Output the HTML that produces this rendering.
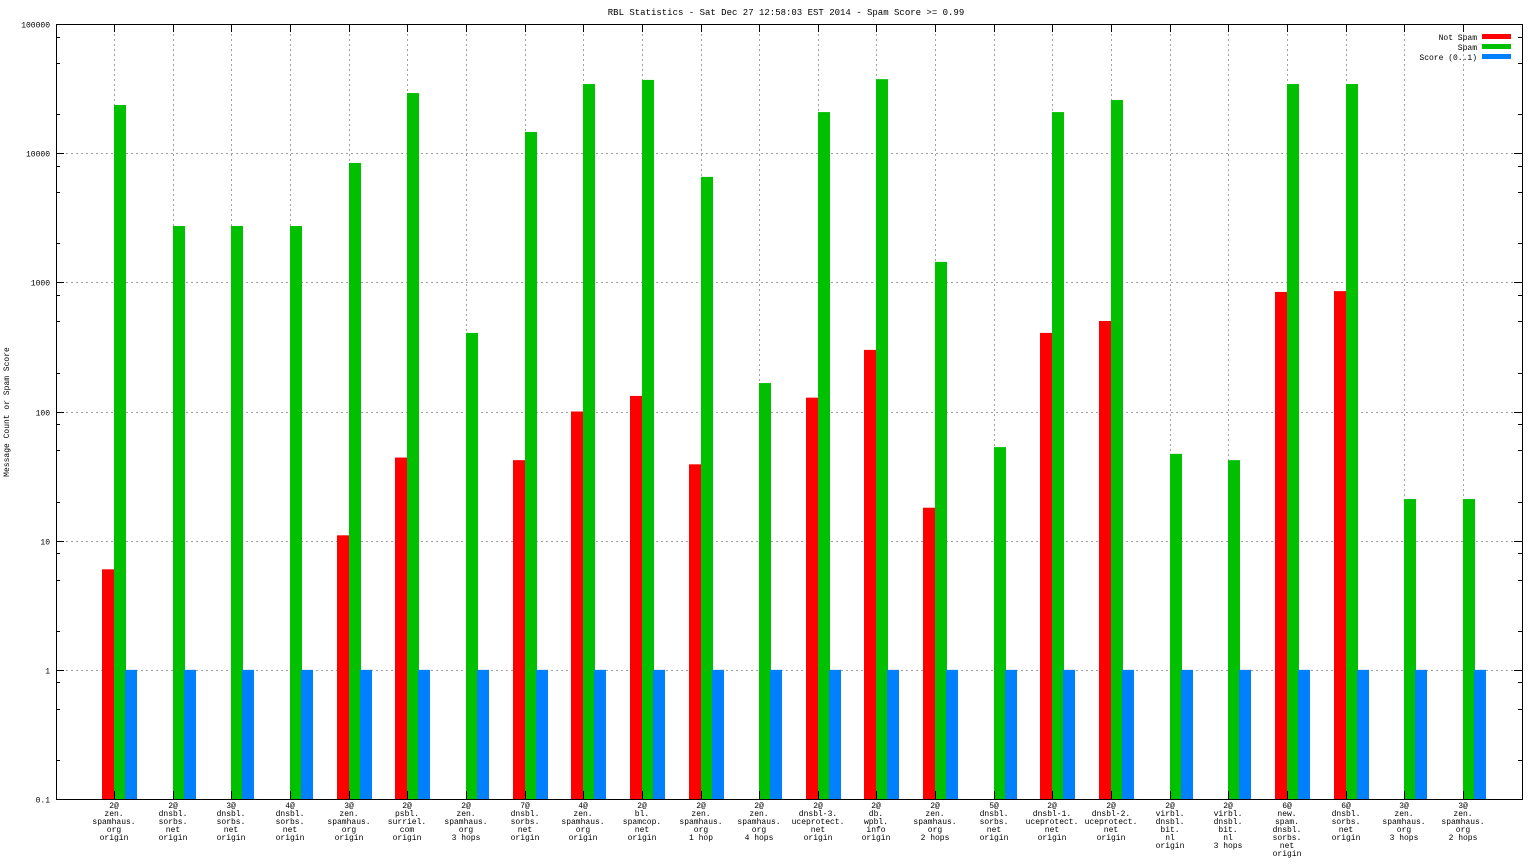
<!DOCTYPE html>
<html><head><meta charset="utf-8"><style>
html,body{margin:0;padding:0;background:#fff;}
svg{display:block;font-family:"Liberation Mono","DejaVu Sans Mono",monospace;}
</style></head><body>
<svg id="chart" width="1536" height="864" viewBox="0 0 1536 864" xmlns="http://www.w3.org/2000/svg">
<text x="786" y="15" font-size="9" text-anchor="middle">RBL Statistics - Sat Dec 27 12:58:03 EST 2014 - Spam Score &gt;= 0.99</text>
<text transform="translate(9,412) rotate(-90)" font-size="8" text-anchor="middle">Message Count or Spam Score</text>
<g id="grid"></g><g id="bars"></g><g id="axes"></g><g id="labels"></g>
<g font-size="8">
<text x="1477" y="40" text-anchor="end">Not Spam</text>
<rect x="1482" y="34" width="29" height="5" fill="#ff0000"/>
<text x="1477" y="50" text-anchor="end">Spam</text>
<rect x="1482" y="44" width="29" height="5" fill="#00c000"/>
<text x="1477" y="60" text-anchor="end">Score (0..1)</text>
<rect x="1482" y="54" width="29" height="5" fill="#0080ff"/>
</g>
</svg>
<script>
const categories=[
["2@","zen.","spamhaus.","org","origin"],["2@","dnsbl.","sorbs.","net","origin"],["3@","dnsbl.","sorbs.","net","origin"],["4@","dnsbl.","sorbs.","net","origin"],
["3@","zen.","spamhaus.","org","origin"],["2@","psbl.","surriel.","com","origin"],["2@","zen.","spamhaus.","org","3 hops"],["7@","dnsbl.","sorbs.","net","origin"],
["4@","zen.","spamhaus.","org","origin"],["2@","bl.","spamcop.","net","origin"],["2@","zen.","spamhaus.","org","1 hop"],["2@","zen.","spamhaus.","org","4 hops"],
["2@","dnsbl-3.","uceprotect.","net","origin"],["2@","db.","wpbl.","info","origin"],["2@","zen.","spamhaus.","org","2 hops"],["5@","dnsbl.","sorbs.","net","origin"],
["2@","dnsbl-1.","uceprotect.","net","origin"],["2@","dnsbl-2.","uceprotect.","net","origin"],["2@","virbl.","dnsbl.","bit.","nl","origin"],["2@","virbl.","dnsbl.","bit.","nl","3 hops"],
["6@","new.","spam.","dnsbl.","sorbs.","net","origin"],["6@","dnsbl.","sorbs.","net","origin"],["3@","zen.","spamhaus.","org","3 hops"],["3@","zen.","spamhaus.","org","2 hops"]];
const notSpam=[6,0,0,0,11,44,0,42,100,132,39,0,128,300,18,0,406,502,0,0,843,855,0,0];
const spam=[23600,2730,2730,2730,8400,29200,406,14600,34300,36900,6550,166,20800,37400,1440,53,20800,25800,47,42,34300,34300,21,21];
const score=[1,1,1,1,1,1,1,1,1,1,1,1,1,1,1,1,1,1,1,1,1,1,1,1];
const yTicks=[0.1,1,10,100,1000,10000,100000];
const yTickLabels=["0.1","1","10","100","1000","10000","100000"];
const minorMult=[2,5,8];

const L=56,R=1522,T=24,B=799,NS="http://www.w3.org/2000/svg";
const xScale=i=>L+(i+1)*(R-L)/25;
const yScale=v=>B-(Math.log10(v)+1)*(B-T)/6;
function mk(tag,attrs,parent){const e=document.createElementNS(NS,tag);for(const k in attrs)e.setAttribute(k,attrs[k]);parent.appendChild(e);return e;}
const grid=document.getElementById('grid'),bars=document.getElementById('bars'),axes=document.getElementById('axes'),labels=document.getElementById('labels');
const dash={stroke:"#a0a0a0","stroke-width":1,"stroke-dasharray":"2,3"};
yTicks.forEach((t,i)=>{
  const y=Math.round(yScale(t))+0.5;
  if(i>0&&i<yTicks.length-1){const g=mk('line',Object.assign({x1:L,x2:R,y1:y,y2:y},dash),grid);
  
  }
  const tk=mk('text',{x:L-6,y:y+3,"font-size":8,"text-anchor":"end"},labels);tk.textContent=yTickLabels[i];
  
  
  mk('line',{x1:L,x2:L+8,y1:y,y2:y,stroke:"#000"},axes);
  mk('line',{x1:R-8,x2:R,y1:y,y2:y,stroke:"#000"},axes);
  if(i<yTicks.length-1){minorMult.forEach(m=>{const ym=Math.round(yScale(t*m))+0.5;
    mk('line',{x1:L,x2:L+4,y1:ym,y2:ym,stroke:"#000"},axes);mk('line',{x1:R-4,x2:R,y1:ym,y2:ym,stroke:"#000"},axes);});}
});
categories.forEach((c,i)=>{
  const cx=Math.floor(xScale(i));
  const g=mk('line',Object.assign({x1:cx+0.5,x2:cx+0.5,y1:T,y2:B},dash),grid);
  
  
  mk('line',{x1:cx+0.5,x2:cx+0.5,y1:B-8,y2:B,stroke:"#000"},axes);
  mk('line',{x1:cx+0.5,x2:cx+0.5,y1:T,y2:T+8,stroke:"#000"},axes);
  [[notSpam,"#ff0000",-12,'bar-not-spam'],[spam,"#00c000",0,'bar-spam'],[score,"#0080ff",11,'bar-score']].forEach(([arr,col,off,nm])=>{
    const v=arr[i]; if(!(v>0))return;
    const y=yScale(v);
    const r=mk('rect',{x:cx+off,y:y,width:12,height:B-y,fill:col},bars);
    
    
  });
  const t=mk('text',{x:cx,"font-size":8,"text-anchor":"middle"},labels);
  
  
  c.forEach((line,j)=>{const s=mk('tspan',{x:cx,y:808+j*8},t);s.textContent=line;});
});
mk('rect',{x:L+0.5,y:T+0.5,width:R-L,height:B-T,fill:"none",stroke:"#000"},axes);
</script>
</body></html>
